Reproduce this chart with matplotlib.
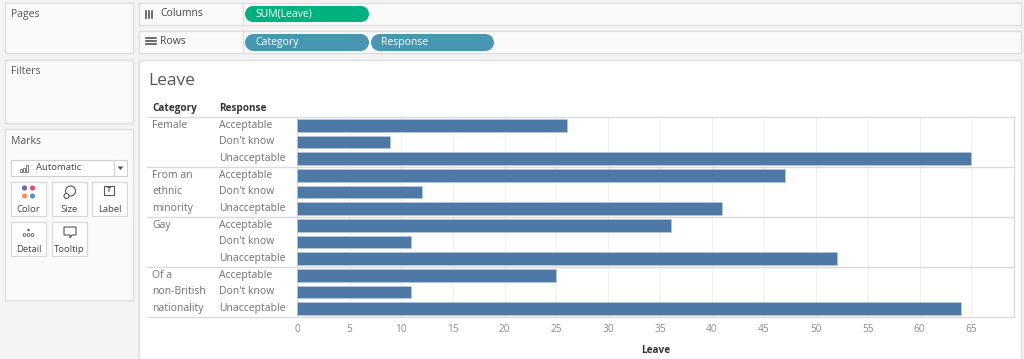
import numpy as np
import matplotlib
matplotlib.use("Agg")
import matplotlib.pyplot as plt
from matplotlib.patches import Rectangle, Ellipse, Circle, Polygon
from matplotlib.transforms import blended_transform_factory

plt.rcParams['font.family'] = ['Open Sans', 'DejaVu Sans']

categories = ['Female', 'From an\nethnic\nminority', 'Gay', 'Of a\nnon-British\nnationality']
responses = ['Acceptable', "Don't know", 'Unacceptable']
leave = {
    'Female': [26, 9, 65],
    'From an\nethnic\nminority': [47, 12, 41],
    'Gay': [36, 11, 52],
    'Of a\nnon-British\nnationality': [25, 11, 64],
}
xticks = list(range(0, 70, 5))

bar_color = '#4e79a7'
grey_txt = '#6f6f6f'
dark_txt = '#333333'
border = '#d9d9d9'

fig = plt.figure(figsize=(10.24, 3.59), dpi=100)
fig.patch.set_facecolor('#f3f3f3')
bg = fig.add_axes([0, 0, 1, 1])
bg.set_xlim(0, 1024)
bg.set_ylim(359, 0)
bg.axis('off')

def panel(x0, y0, x1, y1, fc='#fafafa', ec='#dedede'):
    bg.add_patch(Rectangle((x0, y0), x1 - x0, y1 - y0, fc=fc, ec=ec, lw=1))

# left cards
panel(5, 3, 133, 53)
bg.text(11, 15, 'Pages', fontsize=7.5, color='#555555', va='center')
panel(5, 60, 133, 123)
bg.text(11, 72, 'Filters', fontsize=7.5, color='#555555', va='center')
panel(5, 129, 133, 300)
bg.text(11, 142, 'Marks', fontsize=7.5, color='#555555', va='center')

# marks dropdown
bg.add_patch(Rectangle((11, 160), 116, 16, fc='white', ec='#d0d0d0', lw=0.8))
bg.plot([114, 114], [160, 176], color='#d0d0d0', lw=0.8)
bg.add_patch(Polygon([[117.5, 166.5], [123.5, 166.5], [120.5, 170]], closed=True, fc='#555555', ec='none'))
for i, h in enumerate([3, 4, 7]):
    bg.add_patch(Rectangle((20 + i * 3, 172 - h), 2, h, fc='none', ec='#666666', lw=0.6))
bg.text(36, 168, 'Automatic', fontsize=6.8, color='#444444', va='center')

buttons = [(11, 182, 'Color'), (52, 182, 'Size'), (92, 182, 'Label'),
           (11, 222, 'Detail'), (52, 222, 'Tooltip')]
for bx, by, name in buttons:
    bg.add_patch(Rectangle((bx, by), 35, 34, fc='white', ec='#d6d6d6', lw=0.8))
    bg.text(bx + 17.5, by + 27, name, fontsize=6.8, color='#444444', ha='center', va='center')
# color dots
for (dx, dy, c) in [(-4, -4, '#7b63a8'), (4, -4, '#e5506a'), (-4, 4, '#f2945a'), (4, 4, '#5b8fd1')]:
    bg.add_patch(Circle((28.5 + dx, 192 + dy), 2.6, fc=c, ec='none'))
# size icon
bg.add_patch(Circle((70.5, 191), 5, fc='none', ec='#555555', lw=0.8))
bg.add_patch(Circle((66.5, 196), 2.5, fc='white', ec='#555555', lw=0.8))
# label icon
bg.add_patch(Rectangle((104, 186), 10, 9, fc='none', ec='#555555', lw=0.8))
bg.text(109, 190.8, 'T', fontsize=5, color='#555555', ha='center', va='center', fontweight='bold')
# detail icon
bg.add_patch(Circle((28.5, 230), 1.2, fc='#555555', ec='none'))
for dx in (-4, 0, 4):
    bg.add_patch(Circle((28.5 + dx, 235), 1.4, fc='none', ec='#555555', lw=0.6))
# tooltip icon
bg.add_patch(Polygon([[64, 227], [76, 227], [76, 235], [72, 235], [70, 238], [70, 235], [64, 235]],
                     closed=True, fc='none', ec='#555555', lw=0.8))

# shelves
panel(139, 3, 1021, 25)
panel(139, 31, 1021, 53)
bg.plot([243, 243], [3, 25], color='#dedede', lw=1)
bg.plot([243, 243], [31, 53], color='#dedede', lw=1)
for i in range(3):
    bg.plot([146 + i * 3, 146 + i * 3], [11, 18], color='#555555', lw=1.2)
bg.text(160, 14, 'Columns', fontsize=7.5, color='#444444', va='center')
for i in range(3):
    bg.plot([146, 147.5], [38 + i * 3, 38 + i * 3], color='#555555', lw=1.2)
    bg.plot([149, 156], [38 + i * 3, 38 + i * 3], color='#555555', lw=1.2)
bg.text(160, 42, 'Rows', fontsize=7.5, color='#444444', va='center')

def pill(x0, x1, y0, y1, fc, label):
    r = (y1 - y0) / 2
    bg.add_patch(Rectangle((x0 + r, y0), x1 - x0 - 2 * r, y1 - y0, fc=fc, ec='none'))
    bg.add_patch(Ellipse((x0 + r, (y0 + y1) / 2), 2 * r, y1 - y0, fc=fc, ec='none'))
    bg.add_patch(Ellipse((x1 - r, (y0 + y1) / 2), 2 * r, y1 - y0, fc=fc, ec='none'))
    bg.text(x0 + 10, (y0 + y1) / 2 + 0.5, label, fontsize=7.5, color='white', va='center')

pill(245, 369, 6, 22, '#00b180', 'SUM(Leave)')
pill(245, 369, 34, 51, '#4996b2', 'Category')
pill(371, 494, 34, 51, '#4996b2', 'Response')

# main view panel
bg.add_patch(Rectangle((139, 60), 882, 310, fc='white', ec='#dedede', lw=1))
bg.text(148, 81, 'Leave', fontsize=12.5, color='#555555', va='center')
bg.text(152, 109, 'Category', fontsize=7.2, color=dark_txt, va='center', fontweight='bold')
bg.text(219, 109, 'Response', fontsize=7.2, color=dark_txt, va='center', fontweight='bold')

# bar chart
ax = fig.add_axes([297 / 1024, (359 - 317) / 359, 717 / 1024, 200 / 359])
ax.set_facecolor('none')
n_resp = len(responses)
values = [v for c in categories for v in leave[c]]
ypos = np.arange(len(values))
ax.barh(ypos, values, height=0.75, color=bar_color, edgecolor='#b9c9dc', linewidth=0.5, zorder=3)
ax.set_xlim(0, 69.1)
ax.set_ylim(len(values) - 0.5, -0.5)
ax.set_yticks([])
ax.set_xticks(xticks)
ax.tick_params(axis='x', length=0, labelsize=7.3, labelcolor='#8a8a8a', pad=5)
ax.grid(axis='x', color='#f0f0f0', lw=0.8, zorder=0)
for s in ['top', 'bottom']:
    ax.spines[s].set_visible(False)
ax.spines['left'].set_color(border)
ax.spines['right'].set_color(border)
ax.set_xlabel('Leave', fontsize=7.2, color=dark_txt, fontweight='bold', labelpad=7)

tr = blended_transform_factory(bg.transData, ax.transData)
for gi, cat in enumerate(categories):
    base = gi * n_resp
    for li, line in enumerate(cat.split('\n')):
        ax.text(152, base + li, line, transform=tr, fontsize=7.5, color=grey_txt, va='center', clip_on=False)
    for ri, r in enumerate(responses):
        ax.text(219, base + ri, r, transform=tr, fontsize=7.5, color=grey_txt, va='center', clip_on=False)
for b in np.arange(0, len(values) + 1, n_resp) - 0.5:
    ax.plot([147, 1014], [b, b], transform=tr, color=border, lw=1, clip_on=False, zorder=4)

fig.savefig('out.png', dpi=100, facecolor=fig.get_facecolor())
